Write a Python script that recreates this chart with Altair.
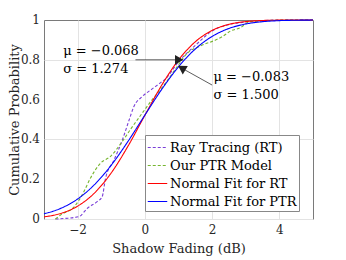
import altair as alt
import pandas as pd

# Empirical CDF: Ray Tracing (RT)
rt_x = [-2.66, -2.36, -1.96, -1.71, -1.42, -1.27, -1.17, -0.92, -0.67, -0.47, -0.33, -0.08, 0.17, 0.47, 0.62, 1.0, 1.46, 2.05, 2.45, 3.0, 3.5, 4.0, 5.0]
rt_y = [0.0, 0.003, 0.012, 0.054, 0.087, 0.112, 0.204, 0.296, 0.397, 0.497, 0.564, 0.615, 0.648, 0.685, 0.705, 0.79, 0.866, 0.95, 0.975, 0.99, 0.997, 1.0, 1.0]

# Empirical CDF: Our PTR Model
ptr_x = [-2.66, -2.51, -2.11, -1.82, -1.62, -1.32, -1.02, -0.67, -0.43, -0.13, 0.17, 0.6, 1.0, 1.26, 1.66, 2.15, 2.3, 2.55, 2.85, 3.1, 3.5, 4.0, 5.0]
ptr_y = [0.0, 0.02, 0.06, 0.135, 0.205, 0.28, 0.315, 0.39, 0.45, 0.52, 0.589, 0.68, 0.775, 0.833, 0.87, 0.903, 0.916, 0.945, 0.962, 0.99, 0.995, 0.999, 1.0]

# Normal fit curves
fit_x = [-3.0, -2.5, -2.0, -1.5, -1.0, -0.5, 0.0, 0.5, 1.0, 1.5, 2.0, 2.5, 3.0, 3.5, 4.0, 4.5, 5.0]
fit_rt_y = [0.0107, 0.0281, 0.0647, 0.1305, 0.2317, 0.3667, 0.5213, 0.6721, 0.7991, 0.8908, 0.9477, 0.9781, 0.9920, 0.9975, 0.9993, 0.9998, 1.0]
fit_ptr_y = [0.0259, 0.0536, 0.1006, 0.1724, 0.2705, 0.3905, 0.5221, 0.6512, 0.7649, 0.8544, 0.9176, 0.9575, 0.9801, 0.9916, 0.9968, 0.9989, 0.9997]

series_names = ["Ray Tracing (RT)", "Our PTR Model", "Normal Fit for RT", "Normal Fit for PTR"]
series_colors = ["#7a3fd8", "#77b530", "#ff0000", "#0000ff"]
series_dash = [[3, 2], [3, 2], [1, 0], [1, 0]]
series_width = [1.1, 1.1, 2.2, 2.2]

# Annotations
ann_text = ["μ = −0.068", "σ = 1.274", "μ = −0.083", "σ = 1.500"]
ann_x = [-2.43, -2.43, 2.04, 2.04]
ann_y = [0.845, 0.752, 0.712, 0.622]

arrow_x = [-0.28, 2.0]
arrow_y = [0.80, 0.673]
arrow_x2 = [0.98, 1.13]
arrow_y2 = [0.80, 0.755]
arrow_angle = [90, 301]

y_ticks = [0, 0.2, 0.4, 0.6, 0.8, 1.0]
y_tick_labels = ["0", "0.2", "0.4", "0.6", "0.8", "1"]
x_ticks = [-2, 0, 2, 4]

rows = []
for i, (xs, ys) in enumerate([(rt_x, rt_y), (ptr_x, ptr_y), (fit_x, fit_rt_y), (fit_x, fit_ptr_y)]):
    for k, (a, b) in enumerate(zip(xs, ys)):
        rows.append({"x": a, "y": b, "series": series_names[i], "order": i, "k": k})
df = pd.DataFrame(rows)

font = "DejaVu Serif"

xs = alt.Scale(domain=[-3, 5], nice=False, zero=False)
ys = alt.Scale(domain=[0, 1], nice=False)

lines = alt.Chart(df).mark_line(interpolate="monotone").encode(
    x=alt.X("x:Q", scale=xs, title="Shadow Fading (dB)",
            axis=alt.Axis(values=x_ticks, format="d")),
    y=alt.Y("y:Q", scale=ys, title="Cumulative Probability",
            axis=alt.Axis(values=y_ticks, labels=False)),
    color=alt.Color("series:N", scale=alt.Scale(domain=series_names, range=series_colors), title=None,
                    legend=alt.Legend(orient="none", legendX=101, legendY=115)),
    strokeDash=alt.StrokeDash("series:N", scale=alt.Scale(domain=series_names, range=series_dash), legend=None),
    strokeWidth=alt.StrokeWidth("series:N", scale=alt.Scale(domain=series_names, range=series_width), legend=None),
    order="k:Q",
)

# y tick labels placed through the y scale
ytl_df = pd.DataFrame({"y": y_ticks, "t": y_tick_labels})
ytl = alt.Chart(ytl_df).mark_text(align="right", baseline="middle", font=font, fontSize=12,
                                  fill="#262626", dx=-4).encode(
    x=alt.value(0), y=alt.Y("y:Q", scale=ys), text="t:N")

ann_df = pd.DataFrame({"t": ann_text, "x": ann_x, "y": ann_y})
texts = alt.Chart(ann_df).mark_text(align="left", baseline="middle", font=font, fontSize=13, fill="black").encode(
    x=alt.X("x:Q", scale=xs), y=alt.Y("y:Q", scale=ys), text="t:N")

arr_df = pd.DataFrame({"x": arrow_x, "y": arrow_y, "x2": arrow_x2, "y2": arrow_y2, "a": arrow_angle})
arr_lines = alt.Chart(arr_df).mark_rule(stroke="#333333", strokeWidth=0.8).encode(
    x=alt.X("x:Q", scale=xs), y=alt.Y("y:Q", scale=ys), x2="x2:Q", y2="y2:Q")
arr_heads = alt.Chart(arr_df).mark_point(shape="triangle", filled=True, fill="#222222", stroke="#222222",
                                         size=40, opacity=1).encode(
    x=alt.X("x2:Q", scale=xs), y=alt.Y("y2:Q", scale=ys), angle=alt.Angle("a:Q", scale=None))

chart = alt.layer(lines, arr_lines, arr_heads, texts, ytl).properties(
    width=269, height=199, autosize=alt.AutoSizeParams(type="none"),
    padding={"left": 36, "top": 12, "right": 25, "bottom": 40},
).configure_view(stroke="#7a7a7a", strokeWidth=1).configure_axis(
    grid=True, gridColor="#e3e3e3", gridWidth=1, domain=False, ticks=False,
    labelFont=font, labelFontSize=12, labelColor="#262626", labelPadding=5,
    titleFont=font, titleFontSize=13, titleColor="#262626", titleFontWeight="normal",
).configure_axisX(titleY=29, titleBaseline="middle").configure_axisY(
    titleX=-29.5, titleY=99.5, titleAlign="center", titleBaseline="middle"
).configure_legend(
    labelFont=font, labelFontSize=13, labelColor="black", symbolType="stroke", symbolSize=380,
    symbolStrokeWidth=2, strokeColor="#888888", fillColor="white", padding=2, rowPadding=0,
    labelOffset=2, labelLimit=300, cornerRadius=0,
)

chart.save("out.html", embed_options={"renderer": "svg", "actions": False})
